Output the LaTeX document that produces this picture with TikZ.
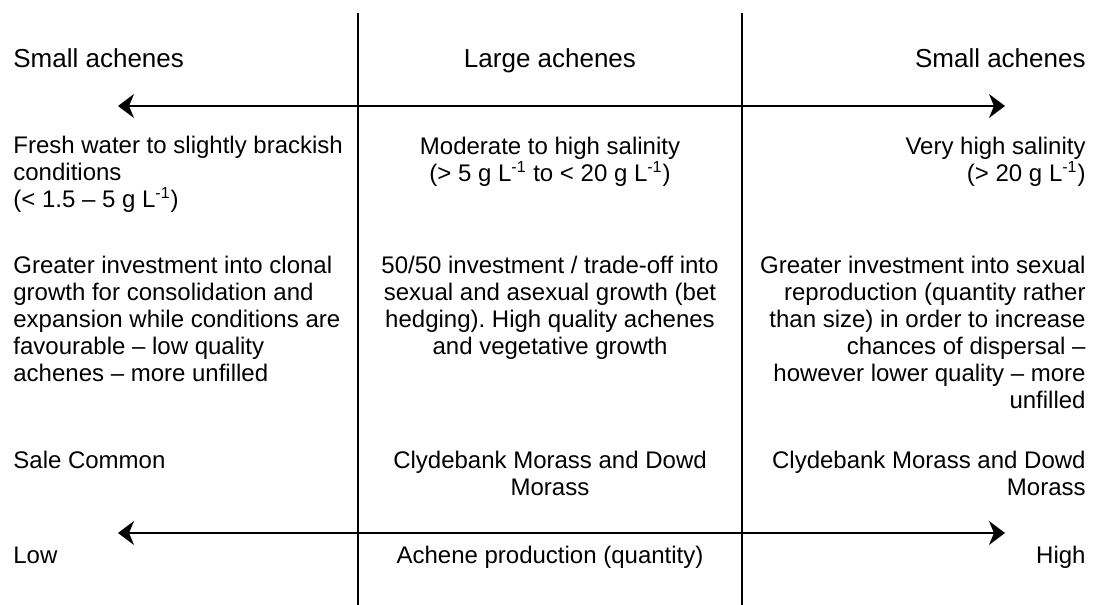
\documentclass[tikz,border=0pt]{standalone}
\usepackage{fontspec}
\setmainfont{Liberation Sans}
\usetikzlibrary{arrows.meta}
\frenchspacing

\newcommand{\perL}{g L\textsuperscript{-1}}

\begin{document}
\begin{tikzpicture}[
  x=0.5pt, y=-0.5pt,
  txt/.style={inner sep=0pt, font=\fontsize{12}{13.5}\selectfont},
  hd/.style={inner sep=0pt, font=\fontsize{13}{15}\selectfont},
  lft/.style={anchor=base west, align=left},
  mid/.style={anchor=base, align=center},
  rgt/.style={anchor=base east, align=right},
  arr/.style={{Stealth[length=8pt, width=12pt, inset=2.5pt]}-{Stealth[length=8pt, width=12pt, inset=2.5pt]}, line width=1pt},
  sep/.style={line width=0.9pt}
]
\useasboundingbox (0,0) rectangle (1094,605);

% column rules
\coordinate (r1t) at (358,13);  \coordinate (r1b) at (358,605);
\coordinate (r2t) at (742,13);  \coordinate (r2b) at (742,605);
\draw[sep] (r1t) -- (r1b);
\draw[sep] (r2t) -- (r2b);

% headings
\node[hd, lft] (hl) at (13,68) {Small achenes};
\node[hd, mid] (hm) at (550,68) {Large achenes};
\node[hd, rgt] (hr) at (1086,68) {Small achenes};

% size axis
\coordinate (al) at (118,106);
\coordinate (ar) at (1005,106);
\draw[arr] (al) -- (ar);

% salinity (node base = last line)
\node[txt, lft] (sl) at (13,207) {Fresh water to slightly brackish\\conditions\\(< 1.5 -- 5 \perL)};
\node[txt, mid] (sm) at (550,181) {Moderate to high salinity\\(> 5 \perL{} to < 20 \perL)};
\node[txt, rgt] (sr) at (1086,181) {Very high salinity\\(> 20 \perL)};

% investment
\node[txt, lft] (il) at (13,381) {Greater investment into clonal\\growth for consolidation and\\expansion while conditions are\\favourable -- low quality\\achenes -- more unfilled};
\node[txt, mid] (im) at (550,354) {50/50 investment / trade-off into\\sexual and asexual growth (bet\\hedging). High quality achenes\\and vegetative growth};
\node[txt, rgt] (ir) at (1086,408) {Greater investment into sexual\\reproduction (quantity rather\\than size) in order to increase\\chances of dispersal --\\however lower quality -- more\\unfilled};

% sites
\node[txt, lft] (pl) at (13,468) {Sale Common};
\node[txt, mid] (pm) at (550,495) {Clydebank Morass and Dowd\\Morass};
\node[txt, rgt] (pr) at (1086,495) {Clydebank Morass and Dowd\\Morass};

% production axis
\coordinate (bl) at (118,533);
\coordinate (br) at (1005,533);
\draw[arr] (bl) -- (br);
\node[txt, lft] (lo) at (13,563) {Low};
\node[txt, mid] (ap) at (550,563) {Achene production (quantity)};
\node[txt, rgt] (hi) at (1086,563) {High};
\end{tikzpicture}
\end{document}
